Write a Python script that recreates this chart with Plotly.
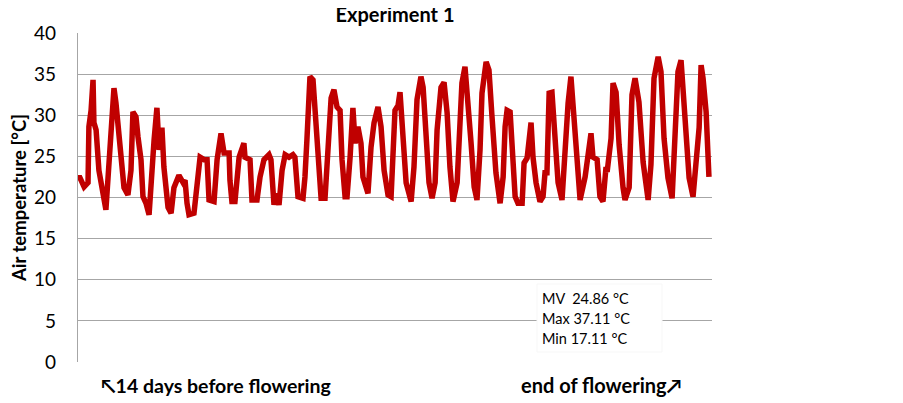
import plotly.graph_objects as go

# time since start of record [days] and air temperature [°C]
days = [0.00, 0.09, 0.28, 0.46, 0.50, 0.60, 0.69, 0.73, 0.83, 0.96,
        1.28, 1.42, 1.51, 1.65, 1.74, 1.83, 1.97, 2.11, 2.29, 2.43,
        2.52, 2.66, 2.75, 2.89, 2.98, 3.12, 3.26, 3.39, 3.49, 3.62,
        3.72, 3.85, 3.94, 4.13, 4.27, 4.40, 4.63, 4.82, 4.91, 5.00,
        5.09, 5.32, 5.41, 5.55, 5.60, 5.78, 5.92, 6.01, 6.24, 6.38,
        6.47, 6.56, 6.70, 6.93, 6.97, 7.06, 7.20, 7.39, 7.61, 7.66,
        7.89, 7.98, 8.21, 8.35, 8.53, 8.76, 8.85, 8.99, 9.08, 9.22,
        9.36, 9.50, 9.68, 9.86, 9.95, 10.09, 10.32, 10.41, 10.50, 10.64,
        10.78, 10.87, 11.01, 11.15, 11.33, 11.47, 11.61, 11.74, 11.88, 12.02,
        12.11, 12.25, 12.34, 12.48, 12.61, 12.71, 12.84, 12.98, 13.07, 13.30,
        13.44, 13.58, 13.76, 13.90, 14.04, 14.22, 14.36, 14.54, 14.68, 14.77,
        14.86, 15.05, 15.28, 15.41, 15.55, 15.73, 15.83, 15.96, 16.10, 16.24,
        16.38, 16.47, 16.65, 16.79, 16.93, 17.06, 17.20, 17.39, 17.52, 17.61,
        17.75, 17.84, 18.03, 18.17, 18.30, 18.44, 18.53, 18.72, 18.85, 18.99,
        19.17, 19.36, 19.50, 19.59, 19.68, 19.82, 19.95, 20.05, 20.18, 20.37,
        20.46, 20.60, 20.78, 20.87, 21.01, 21.19, 21.33, 21.42, 21.51, 21.61,
        21.74, 21.88, 22.02, 22.20, 22.34, 22.48, 22.61, 22.71, 22.84, 23.03,
        23.26, 23.39, 23.53, 23.62, 23.81, 23.94, 24.08, 24.22, 24.27, 24.45,
        24.54, 24.68, 24.82, 25.00, 25.09, 25.28, 25.41, 25.55, 25.73, 25.92,
        26.15, 26.28, 26.42, 26.61, 26.74, 26.88, 27.06, 27.25, 27.34, 27.52,
        27.66, 27.75, 27.89, 28.03, 28.21, 28.35, 28.49, 28.58, 28.67, 28.81,
        28.94]
temp = [22.4, 22.4, 21.3, 21.8, 28.6, 30.6, 34.3, 29.1, 28.2, 23.3,
        18.5, 24.6, 29.1, 33.3, 31.5, 28.6, 24.6, 21.2, 20.3, 23.3,
        30.4, 29.8, 27.4, 24.6, 20.1, 19.3, 17.9, 24.6, 27.0, 30.9,
        25.8, 28.5, 23.7, 18.8, 18.1, 21.2, 22.7, 21.8, 22.1, 19.3,
        17.9, 18.1, 20.5, 23.7, 24.9, 24.6, 24.6, 19.7, 19.5, 24.6,
        25.8, 27.8, 25.4, 25.4, 22.1, 19.5, 19.5, 24.9, 26.6, 24.9,
        24.6, 19.7, 19.7, 22.5, 24.6, 25.2, 24.6, 19.1, 20.5, 19.1,
        23.3, 25.2, 24.9, 25.2, 24.9, 20.1, 19.9, 22.5, 27.0, 34.7,
        34.3, 30.6, 23.7, 19.9, 19.9, 26.1, 32.1, 33.1, 31.0, 30.6,
        24.6, 20.1, 20.1, 24.9, 30.9, 26.6, 28.6, 26.6, 22.5, 20.5,
        26.1, 29.1, 31.0, 28.6, 23.3, 20.3, 20.1, 30.6, 31.2, 32.8,
        29.1, 21.8, 19.5, 23.7, 31.9, 34.7, 33.4, 27.8, 21.8, 19.9,
        21.8, 28.2, 33.4, 34.0, 30.3, 23.7, 19.5, 21.8, 29.1, 33.9,
        35.9, 32.2, 26.6, 21.3, 19.7, 25.8, 32.7, 36.5, 35.5, 29.8,
        23.0, 19.3, 22.5, 28.6, 30.6, 30.4, 25.4, 20.1, 19.3, 19.3,
        24.2, 24.8, 29.1, 24.9, 21.8, 19.5, 20.1, 23.0, 23.0, 32.7,
        32.8, 27.4, 21.8, 19.7, 25.8, 31.5, 34.7, 31.5, 25.8, 19.7,
        22.5, 25.4, 27.8, 24.9, 24.6, 20.1, 19.5, 23.7, 23.1, 27.2,
        33.9, 32.8, 26.4, 21.2, 19.7, 21.2, 32.5, 34.5, 31.6, 24.3,
        19.7, 24.0, 34.5, 37.1, 35.3, 27.2, 22.4, 19.9, 24.3, 35.3,
        36.7, 33.7, 27.2, 22.4, 20.1, 25.2, 28.5, 36.1, 34.5, 30.4,
        22.5]

stats = ["MV  24.86 °C", "Max 37.11 °C", "Min 17.11 °C"]

FONT = "Lato, Carlito, 'Liberation Sans', sans-serif"
# the page body adds an 8 px margin, so the figure is 8 px smaller each way
W, H = 895, 395
L, R, T, B = 70, 191, 25, 41
PW, PH = W - L - R, H - T - B


def px(x):
    # horizontal figure pixel -> paper fraction
    return (x - L) / PW


def py(y):
    # vertical figure pixel -> paper fraction
    return (H - B - y) / PH


fig = go.Figure()
fig.add_trace(go.Scatter(x=days, y=temp, mode="lines",
                         line=dict(color="#C00000", width=5.5),
                         showlegend=False, hoverinfo="skip"))

fig.update_layout(
    width=W, height=H,
    margin=dict(l=L, r=R, t=T, b=B),
    plot_bgcolor="white", paper_bgcolor="white",
    font=dict(family=FONT, size=19, color="black"),
    title=dict(text="<b>Experiment 1</b>", x=(L + PW / 2) / W, xanchor="center",
               y=1, yanchor="top", pad=dict(t=0), font=dict(size=20)),
    xaxis=dict(range=[0, 29.08], showgrid=False, showticklabels=False,
               zeroline=False, showline=False, ticks=""),
    yaxis=dict(range=[0, 40], tickvals=[0, 5, 10, 15, 20, 25, 30, 35, 40],
               showgrid=True, gridcolor="#A6A6A6", gridwidth=1.3,
               zeroline=False, showline=True, linecolor="#A6A6A6", linewidth=1.3,
               ticks="", ticklabelstandoff=17, automargin=False,
               title=dict(text="<b>Air temperature [°C]</b>", standoff=6,
                          font=dict(size=18.5))),
)

# white box holding the statistics, hides the 5 °C grid line behind it
fig.add_shape(type="rect", xref="paper", yref="paper",
              x0=px(529), x1=px(654), y0=py(344), y1=py(276),
              fillcolor="white", line=dict(color="#F7F7F7", width=1), layer="above")
for i, s in enumerate(stats):
    fig.add_annotation(text=s, xref="paper", yref="paper",
                       x=px(532), y=py(290 + 20 * i), xanchor="left", yanchor="middle",
                       showarrow=False, font=dict(size=14.5))

fig.add_annotation(text="<b>\u219614 days before flowering</b>", xref="paper", yref="paper",
                   x=px(91), y=py(377), xanchor="left", yanchor="middle",
                   showarrow=False, font=dict(size=19.5))
fig.add_annotation(text="<b>end of flowering\u2197</b>", xref="paper", yref="paper",
                   x=px(676), y=py(377), xanchor="right", yanchor="middle",
                   showarrow=False, font=dict(size=20))

fig.write_html("out.html")
